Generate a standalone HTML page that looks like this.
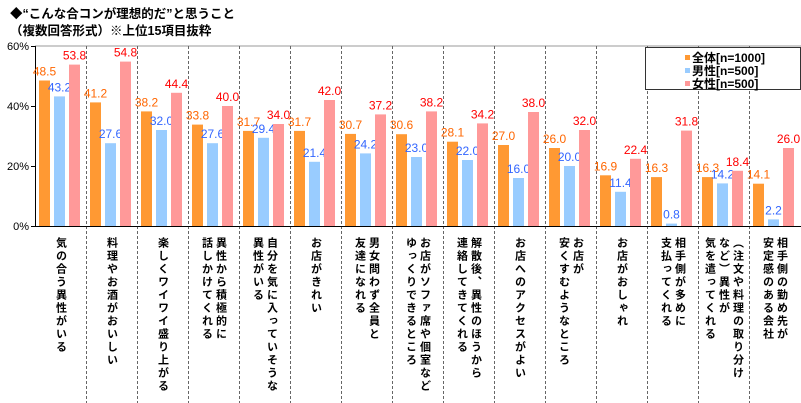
<!DOCTYPE html>
<html><head><meta charset="utf-8"><style>
body{margin:0;background:#fff;width:801px;height:403px;overflow:hidden;font-family:"Liberation Sans","Noto Sans CJK JP",sans-serif}
.t{position:absolute;left:10px;font-size:12.5px;font-weight:bold;color:#000}
</style></head><body>
<div class="t" style="top:3px">◆“こんな合コンが理想的だ”と思うこと</div>
<div class="t" style="top:20px">（複数回答形式）※上位15項目抜粋</div>
<svg id="c" width="801" height="403" style="position:absolute;left:0;top:0"></svg>
<script>
const categories=["気の合う異性がいる","料理やお酒がおいしい","楽しくワイワイ盛り上がる","異性から積極的に|話しかけてくれる","自分を気に入っていそうな|異性がいる","お店がきれい","男女問わず全員と|友達になれる","お店がソファ席や個室など|ゆっくりできるところ","解散後、異性のほうから|連絡してきてくれる","お店へのアクセスがよい","お店が|安くすむようなところ","お店がおしゃれ","相手側が多めに|支払ってくれる","（注文や料理の取り分け|など）異性が|気を遣ってくれる","相手側の勤め先が|安定感のある会社"];
const totalVals=[48.5,41.2,38.2,33.8,31.7,31.7,30.7,30.6,28.1,27.0,26.0,16.9,16.3,16.3,14.1];
const maleVals=[43.2,27.6,32.0,27.6,29.4,21.4,24.2,23.0,22.0,16.0,20.0,11.4,0.8,14.2,2.2];
const femaleVals=[53.8,54.8,44.4,40.0,34.0,42.0,37.2,38.2,34.2,38.0,32.0,22.4,31.8,18.4,26.0];
const yTicks=[0,20,40,60];
const seriesNames=["全体[n=1000]","男性[n=500]","女性[n=500]"];
const svg=document.getElementById('c');const NS='http://www.w3.org/2000/svg';
const X0=35,CW=51,Y0=226,YT=46;
const y=v=>Y0-(v/60)*(Y0-YT);
function mk(t,a,p){const e=document.createElementNS(NS,t);for(const k in a)e.setAttribute(k,a[k]);(p||svg).appendChild(e);return e;}
mk('line',{x1:X0,y1:YT,x2:801,y2:YT,stroke:'#999','stroke-width':1});
for(let i=1;i<categories.length;i++){const l=mk('line',{x1:X0+i*CW+.5,y1:YT,x2:X0+i*CW+.5,y2:403,stroke:'#666','stroke-dasharray':'3,2','stroke-width':1});

}
mk('line',{x1:X0+.5,y1:YT,x2:X0+.5,y2:Y0+1,stroke:'#000'});
mk('line',{x1:X0,y1:Y0+.5,x2:801,y2:Y0+.5,stroke:'#000'});
yTicks.forEach(v=>{mk('line',{x1:X0-4,y1:y(v)+.5,x2:X0,y2:y(v)+.5,stroke:'#000'});
const t=mk('text',{x:X0-6,y:y(v)+4,'text-anchor':'end','font-size':11,fill:'#000'});t.textContent=v+'%';

});
const series=[[totalVals,'#ff9933','#ff6600',4],[maleVals,'#99ccff','#3366ff',19],[femaleVals,'#ff9999','#ff0000',34]];
series.forEach(([vals,fc,tc,off],si)=>{vals.forEach((v,i)=>{const x=X0+i*CW+off;
const r=mk('rect',{x:x,y:y(v),width:11,height:Y0-y(v),fill:fc});


const t=mk('text',{x:x+5.5,y:y(v)-5,'text-anchor':'middle','font-size':12,fill:tc});t.textContent=v.toFixed(1);

});});
categories.forEach((c,i)=>{const lines=c.split('|');const n=lines.length;const cx=X0+i*CW+CW/2;
lines.forEach((ln,j)=>{const lx=cx+((n-1)/2-j)*14;
const t=mk('text',{x:lx,y:237,'font-size':11,'font-weight':'bold',fill:'#000','letter-spacing':2,style:'writing-mode:vertical-rl'});t.textContent=ln;

});});
const lg=mk('g',{});


mk('rect',{x:645.5,y:47.5,width:155,height:42,fill:'#fff',stroke:'#333'},lg);
seriesNames.forEach((s,i)=>{mk('rect',{x:685,y:52+i*13+3,width:5,height:5,fill:series[i][1]},lg);
const t=mk('text',{x:692,y:62+i*13,'font-size':12,'font-weight':'bold',fill:'#000'},lg);t.textContent=s;

});
</script>
</body></html>
